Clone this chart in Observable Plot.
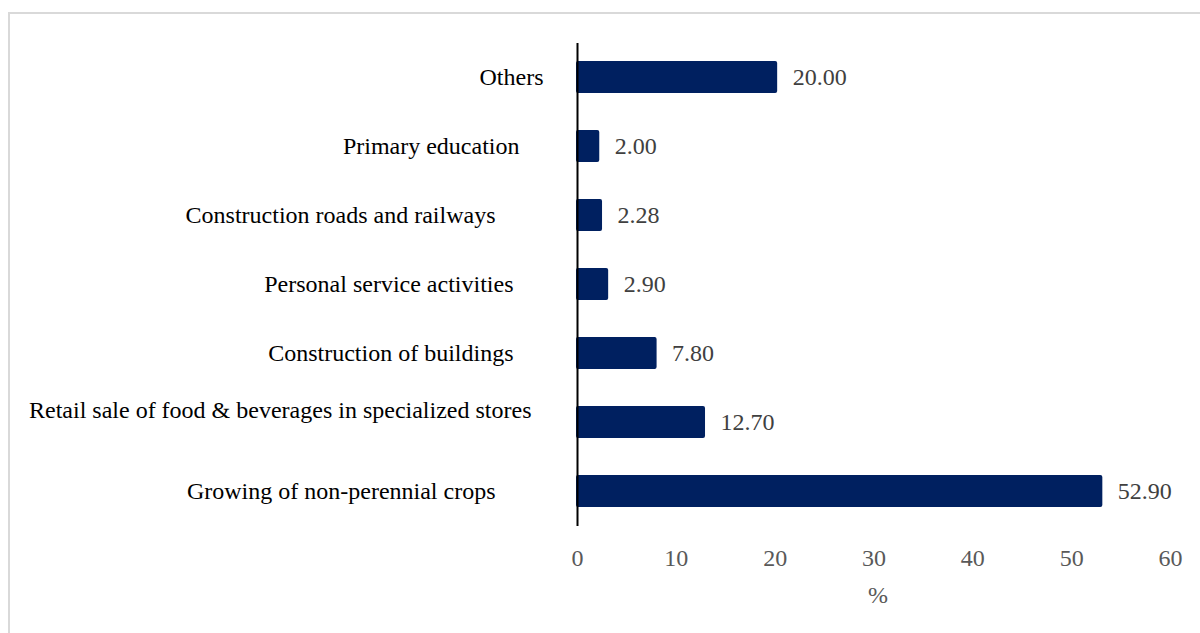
<!DOCTYPE html>
<html>
<head>
<meta charset="utf-8">
<script src="https://cdn.jsdelivr.net/npm/d3@7"></script>
<script src="https://cdn.jsdelivr.net/npm/@observablehq/plot@0.6"></script>
<style>
  html, body { margin: 0; padding: 0; background: #ffffff; }
  #wrap { position: relative; width: 1200px; height: 633px; overflow: hidden; background: #ffffff; }
  #border { position: absolute; left: 8px; top: 12px; width: 1300px; height: 800px; border: 2px solid #d9d9d9; box-sizing: border-box; }
  #chart { position: absolute; left: 0; top: 0; }
</style>
</head>
<body>
<div id="wrap"><div id="border"></div><div id="chart"></div></div>
<script>
// Category labels (as in the source workbook, with trailing spaces; the retail label wraps to a blank second line)
const categories = [
  "Others",
  "Primary education\u00a0\u00a0\u00a0\u00a0",
  "Construction roads and railways\u00a0\u00a0\u00a0\u00a0\u00a0\u00a0\u00a0\u00a0",
  "Personal service activities\u00a0\u00a0\u00a0\u00a0\u00a0",
  "Construction of buildings\u00a0\u00a0\u00a0\u00a0\u00a0",
  "Retail sale of food & beverages in specialized stores\u00a0\u00a0\n",
  "Growing of non-perennial crops\u00a0\u00a0\u00a0\u00a0\u00a0\u00a0\u00a0\u00a0"
];
const values = [20.00, 2.00, 2.28, 2.90, 7.80, 12.70, 52.90];
const xTicks = [0, 10, 20, 30, 40, 50, 60];
const xLabel = "%";

const data = categories.map((c, i) => ({category: c, value: values[i]}));

const serif = "'Liberation Serif', 'Times New Roman', serif";

const chart = Plot.plot({
  width: 1200,
  height: 633,
  marginLeft: 577,
  marginRight: 30,
  marginTop: 43,
  marginBottom: 107,
  style: {fontFamily: serif, fontSize: "24px", background: "transparent"},
  x: {domain: [0, 60]},
  y: {domain: categories, paddingInner: 0.53, paddingOuter: 0.265, axis: null},
  marks: [
    Plot.barX(data, {x: "value", y: "category", fill: "#002060", rx: 2, insetRight: -2.5, insetLeft: -1}),
    Plot.ruleX([0], {stroke: "#000000", strokeWidth: 2}),
    Plot.text(data, {
      x: "value", y: "category",
      text: d => d.value.toFixed(2),
      textAnchor: "start", dx: 17.5,
      fill: "#404040", fontSize: 24, fontFamily: serif
    }),
    Plot.text(data, {
      y: "category", text: "category",
      frameAnchor: "left", dx: -34, textAnchor: "end",
      fill: "#000000", fontSize: 24, fontFamily: serif
    }),
    Plot.axisX({
      ticks: xTicks, tickSize: 0, tickPadding: 22,
      fontSize: 24, fill: "#595959", label: null
    }),
    Plot.text([xLabel], {
      text: d => d, frameAnchor: "bottom", dy: 76, dx: 4,
      fill: "#595959", fontSize: 24, fontFamily: serif
    })
  ]
});
document.getElementById("chart").appendChild(chart);
</script>
</body>
</html>
